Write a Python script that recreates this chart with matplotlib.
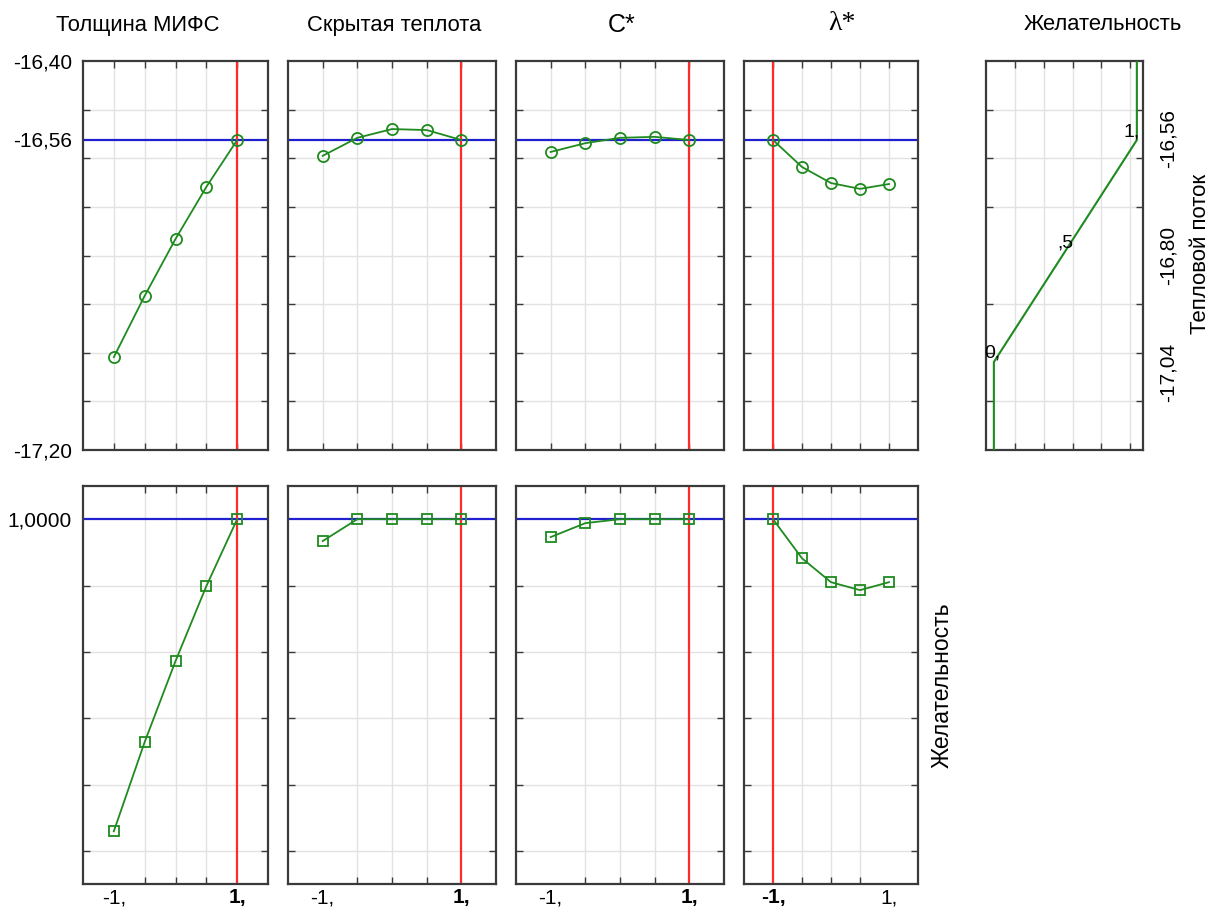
import matplotlib
matplotlib.use("Agg")
import matplotlib.pyplot as plt

plt.rcParams['font.family'] = ['Liberation Sans', 'DejaVu Sans']

# ---- data ----
titles = ["Толщина МИФС", "Скрытая теплота", "C*", "λ*"]
x_levels = [-1, -0.5, 0, 0.5, 1]
heat_thick = [-17.009, -16.883, -16.766, -16.659, -16.5625]
heat_latent = [-16.595, -16.558, -16.540, -16.542, -16.5625]
heat_c = [-16.587, -16.569, -16.558, -16.556, -16.5625]
heat_lambda = [-16.5625, -16.618, -16.651, -16.663, -16.653]
des_thick = [0.059, 0.328, 0.572, 0.798, 1.0]
des_latent = [0.934, 1.0, 1.0, 1.0, 1.0]
des_c = [0.946, 0.988, 1.0, 1.0, 1.0]
des_lambda = [1.0, 0.882, 0.81, 0.786, 0.81]
current_x = [1, 1, 1, -1]
current_heat = -16.5625
current_des = 1.0
# desirability function (desirability vs heat flux)
dfun_d = [0, 0, 1, 1]
dfun_heat = [-17.20, -17.019, -16.5625, -16.40]
dfun_labels = ["0,", ",5", "1,"]
top_ylabels = ["-16,40", "-16,56", "-17,20"]
top_yvals = [-16.40, -16.56, -17.20]
top_grid = [-16.5, -16.6, -16.7, -16.8, -16.9, -17.0, -17.1]
bot_grid = [0.0, 0.2, 0.4, 0.6, 0.8]
dfun_ylabels = ["-16,56", "-16,80", "-17,04"]
dfun_yvals = [-16.56, -16.80, -17.04]
dfun_grid = [0.15, 0.35, 0.55, 0.75, 0.95]

heat_series = [heat_thick, heat_latent, heat_c, heat_lambda]
des_series = [des_thick, des_latent, des_c, des_lambda]

W, H = 1214, 915
fig = plt.figure(figsize=(W / 100, H / 100), dpi=100)

GREEN = '#1f8a1f'
RED = '#ff2a2a'
BLUE = '#2020d0'
GRID = '#e2e2e2'
SPINE = '#3a3a3a'
FS = 15

def px_axes(x0, y0, x1, y1):
    return fig.add_axes([x0 / W, 1 - y1 / H, (x1 - x0) / W, (y1 - y0) / H])

def style(ax):
    for s in ax.spines.values():
        s.set_color(SPINE)
        s.set_linewidth(1.6)
    ax.tick_params(which='both', direction='in', top=True, right=True,
                   colors=SPINE, labelcolor='black', labelsize=FS, width=1.0)
    ax.tick_params(which='major', length=0)
    ax.tick_params(which='minor', length=5)
    ax.set_axisbelow(True)

panel_x = [(83, 268), (288, 496), (516, 724), (744, 918)]
top_y = (61, 450)
bot_y = (486, 884)

for i, (x0, x1) in enumerate(panel_x):
    # top row
    ax = px_axes(x0, top_y[0], x1, top_y[1])
    style(ax)
    ax.set_xlim(-1.5, 1.5)
    ax.set_ylim(-17.20, -16.40)
    ax.set_xticks(x_levels, minor=True)
    ax.set_xticks([])
    ax.set_yticks(top_grid, minor=True)
    ax.set_yticks(top_yvals)
    if i == 0:
        ax.set_yticklabels(top_ylabels)
        ax.tick_params(axis='y', pad=8)
    else:
        ax.set_yticklabels([])
    ax.grid(which='minor', color=GRID, lw=1.0)
    ax.axhline(current_heat, color=BLUE, lw=1.6, zorder=2)
    ax.axvline(current_x[i], color=RED, lw=1.6, zorder=2)
    ax.plot(x_levels, heat_series[i], color=GREEN, lw=1.3, marker='o', ms=8,
            mfc='none', mec=GREEN, mew=1.3, zorder=3)

    # bottom row
    ax = px_axes(x0, bot_y[0], x1, bot_y[1])
    style(ax)
    ax.set_xlim(-1.5, 1.5)
    ax.set_ylim(-0.1, 1.1)
    ax.set_xticks(x_levels, minor=True)
    ax.set_xticks([-1, 1])
    labs = ax.set_xticklabels(["-1,", "1,"])
    for lab, v in zip(labs, [-1, 1]):
        if v == current_x[i]:
            lab.set_fontweight('bold')
    ax.tick_params(axis='x', pad=3)
    ax.set_yticks(bot_grid, minor=True)
    ax.set_yticks([1.0])
    if i == 0:
        ax.set_yticklabels(["1,0000"])
        ax.tick_params(axis='y', pad=8)
    else:
        ax.set_yticklabels([])
    ax.grid(which='minor', color=GRID, lw=1.0)
    ax.axhline(current_des, color=BLUE, lw=1.6, zorder=2)
    ax.axvline(current_x[i], color=RED, lw=1.6, zorder=2)
    ax.plot(x_levels, des_series[i], color=GREEN, lw=1.3, marker='s', ms=7.5,
            mfc='none', mec=GREEN, mew=1.3, zorder=3)

# desirability function panel
ax = px_axes(986, top_y[0], 1143, top_y[1])
style(ax)
ax.set_xlim(-0.055, 1.043)
ax.set_ylim(-17.20, -16.40)
ax.set_xticks(dfun_grid, minor=True)
ax.set_xticks([])
ax.set_yticks(top_grid, minor=True)
ax.set_yticks(dfun_yvals)
ax.set_yticklabels(dfun_ylabels, rotation=90, va='center')
ax.tick_params(axis='y', labelleft=False, labelright=True, pad=11)
ax.grid(which='minor', color=GRID, lw=1.0)
ax.plot(dfun_d, dfun_heat, color=GREEN, lw=1.5, zorder=3)
fs_ann = 14
ax.text(dfun_d[0] - 0.01, dfun_heat[1], dfun_labels[0], ha='center', va='bottom', fontsize=fs_ann)
ax.text(0.5, (dfun_heat[1] + dfun_heat[2]) / 2, dfun_labels[1], ha='center', va='bottom', fontsize=fs_ann)
ax.text(dfun_d[2] + 0.02, dfun_heat[2], dfun_labels[2], ha='right', va='bottom', fontsize=fs_ann)

# titles
title_x = [138, 394, 622, 842]
for t, xc in zip(titles, title_x):
    if t.startswith('λ'):
        fig.text(xc / W, 1 - 24 / H, t, ha='center', va='center', fontsize=20,
                 family=['Liberation Serif', 'DejaVu Serif'])
    elif t == "C*":
        fig.text(xc / W, 1 - 25 / H, t, ha='center', va='center', fontsize=18)
    else:
        fig.text(xc / W, 1 - 25 / H, t, ha='center', va='center', fontsize=15.8)
fig.text(1103 / W, 1 - 25 / H, "Желательность", ha='center', va='center', fontsize=15.8)

# right labels
fig.text(1201 / W, 1 - 254 / H, "Тепловой поток", ha='center', va='center',
         rotation=90, fontsize=16)
fig.text(942 / W, 1 - 685 / H, "Желательность", ha='center', va='center',
         rotation=90, fontsize=16.5)

fig.savefig("out.png", dpi=100)
